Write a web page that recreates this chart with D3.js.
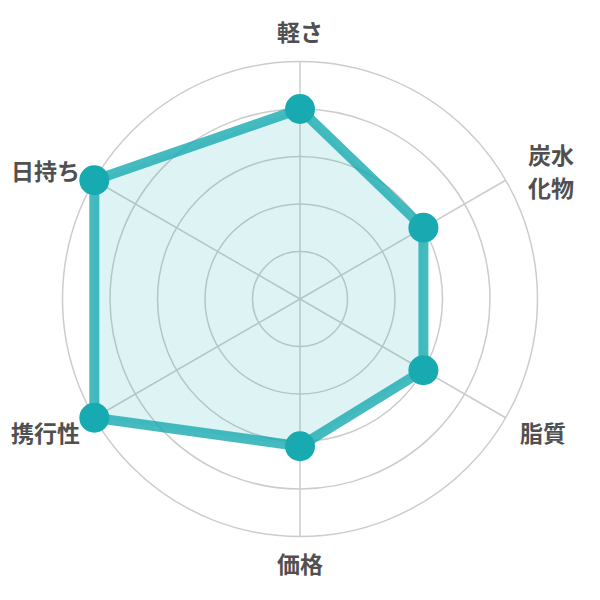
<!DOCTYPE html>
<html>
<head>
<meta charset="utf-8">
<script src="https://cdn.jsdelivr.net/npm/d3@7"></script>
<style>
  html, body { margin: 0; padding: 0; background: #fff; }
  svg { display: block; }
  .label { font-family: "Noto Sans CJK JP", "Noto Sans", sans-serif; font-weight: 700; font-size: 23px; fill: #505050; }
</style>
</head>
<body>
<svg id="chart" width="600" height="600"></svg>
<script>
// Axis labels, clockwise from top (multi-line labels split into rows)
const axes = [['軽さ'], ['炭水', '化物'], ['脂質'], ['価格'], ['携行性'], ['日持ち']];
const values = [4, 3, 3, 3.1, 5, 5];
const rings = [1, 2, 3, 4, 5];
const maxValue = 5;

const width = 600, height = 600;
const cx = 300, cy = 299;
const outer = 237.5;
const color = '#17aab0';

const svg = d3.select('#chart');
const g = svg.append('g').attr('transform', `translate(${cx},${cy})`);

const r = d3.scaleLinear().domain([0, maxValue]).range([0, outer]);
const angle = d3.scaleLinear().domain([0, axes.length]).range([0, 2 * Math.PI]);

// grid rings
g.selectAll('circle.ring')
  .data(rings)
  .join('circle')
  .attr('class', 'ring')
  .attr('r', d => r(d))
  .attr('fill', 'none')
  .attr('stroke', '#cccccc')
  .attr('stroke-width', 1.5);

// spokes
g.selectAll('line.spoke')
  .data(axes)
  .join('line')
  .attr('class', 'spoke')
  .attr('x1', 0).attr('y1', 0)
  .attr('x2', (d, i) => r(maxValue) * Math.sin(angle(i)))
  .attr('y2', (d, i) => -r(maxValue) * Math.cos(angle(i)))
  .attr('stroke', '#cccccc')
  .attr('stroke-width', 1.5);

// data polygon
const radial = d3.lineRadial()
  .angle((d, i) => angle(i))
  .radius(d => r(d))
  .curve(d3.curveLinearClosed);

g.append('path')
  .datum(values)
  .attr('d', radial)
  .attr('fill', color)
  .attr('fill-opacity', 0.14)
  .attr('stroke', color)
  .attr('stroke-opacity', 0.8)
  .attr('stroke-width', 10)
  .attr('stroke-linejoin', 'round');

// points
g.selectAll('circle.pt')
  .data(values)
  .join('circle')
  .attr('class', 'pt')
  .attr('cx', (d, i) => r(d) * Math.sin(angle(i)))
  .attr('cy', (d, i) => -r(d) * Math.cos(angle(i)))
  .attr('r', 15)
  .attr('fill', color);

// labels
const labelR = r(maxValue) + 16.5;
const lineH = 33;
g.selectAll('text.label')
  .data(axes)
  .join('text')
  .attr('class', 'label')
  .each(function (d, i) {
    const a = angle(i);
    const s = Math.sin(a), c = Math.cos(a);
    let x = labelR * s, y = -labelR * c;
    const t = d3.select(this);
    let anchor = 'middle';
    if (Math.abs(s) < 0.01) {
      // top / bottom
      if (c > 0) y -= 4; else y += 20;
    } else {
      anchor = s > 0 ? 'start' : 'end';
      if (c < 0) y += 8;
      if (d.length > 1) x += 8;
      y += 8 - (d.length - 1) * lineH / 2;
    }
    t.attr('text-anchor', anchor);
    d.forEach((line, k) => {
      t.append('tspan')
        .attr('x', x)
        .attr('y', y + k * lineH)
        .text(line);
    });
  });
</script>
</body>
</html>
